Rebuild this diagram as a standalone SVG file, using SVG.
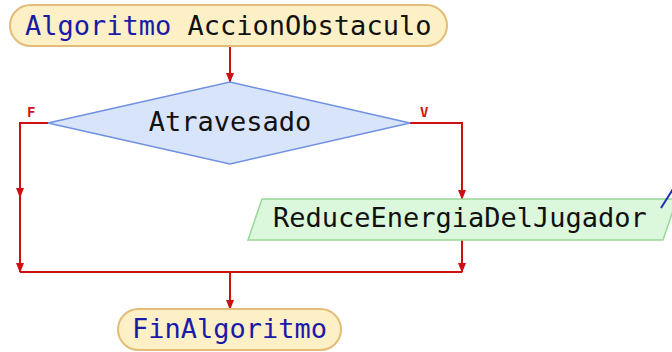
<svg xmlns="http://www.w3.org/2000/svg" width="672" height="352" viewBox="0 0 672 352">
<style>
.t{font-family:"DejaVu Sans Mono",monospace;font-size:27px;fill:#111}
.kw{fill:#1a1aa8}
.term{fill:#fdf0c6;stroke:#e2bd78;stroke-width:2}
.dec{fill:#d8e4fa;stroke:#7090e0;stroke-width:1.5}
.io{fill:#dcf8dc;stroke:#98d898;stroke-width:1.5}
.c{fill:none;stroke:#d01010;stroke-width:2}
.lbl{font-family:"DejaVu Sans Mono",monospace;font-size:14px;font-weight:bold;fill:#d01010}
</style>
<defs>
<marker id="ah" markerWidth="10" markerHeight="8" refX="9" refY="4" orient="auto" markerUnits="userSpaceOnUse">
<path d="M0,0 L10,4 L0,8 Z" fill="#d01010"/>
</marker>
</defs>
<g id="connectors">
<path class="c" d="M230,47 V82" marker-end="url(#ah)"/>
<path class="c" d="M48,123 H20 V197" marker-end="url(#ah)"/>
<path class="c" d="M20,190 V272" marker-end="url(#ah)"/>
<path class="c" d="M410,123 H462 V199" marker-end="url(#ah)"/>
<path class="c" d="M462,240 V272" marker-end="url(#ah)"/>
<path class="c" d="M20,272 H462"/>
<path class="c" d="M230,272 V309" marker-end="url(#ah)"/>
<text class="lbl" x="27" y="117">F</text>
<text class="lbl" x="420" y="117">V</text>
</g>
<g id="start">
<rect class="term" x="10" y="5" width="437" height="41" rx="20.5"/>
<text class="t" x="25" y="35"><tspan class="kw">Algoritmo</tspan> AccionObstaculo</text>
</g>
<g id="decision">
<polygon class="dec" points="230,82 410,123 230,164 48,123"/>
<text class="t" x="230" y="131" text-anchor="middle">Atravesado</text>
</g>
<g id="output">
<polygon class="io" points="262,199 677,199 663,240 248,240"/>
<text class="t" x="273" y="227">ReduceEnergiaDelJugador</text>
<line x1="661" y1="208" x2="673" y2="189" stroke="#2030b0" stroke-width="2"/>
</g>
<g id="end">
<rect class="term" x="118" y="309" width="223" height="41" rx="20.5"/>
<text class="t kw" x="132" y="338">FinAlgoritmo</text>
</g>
</svg>
